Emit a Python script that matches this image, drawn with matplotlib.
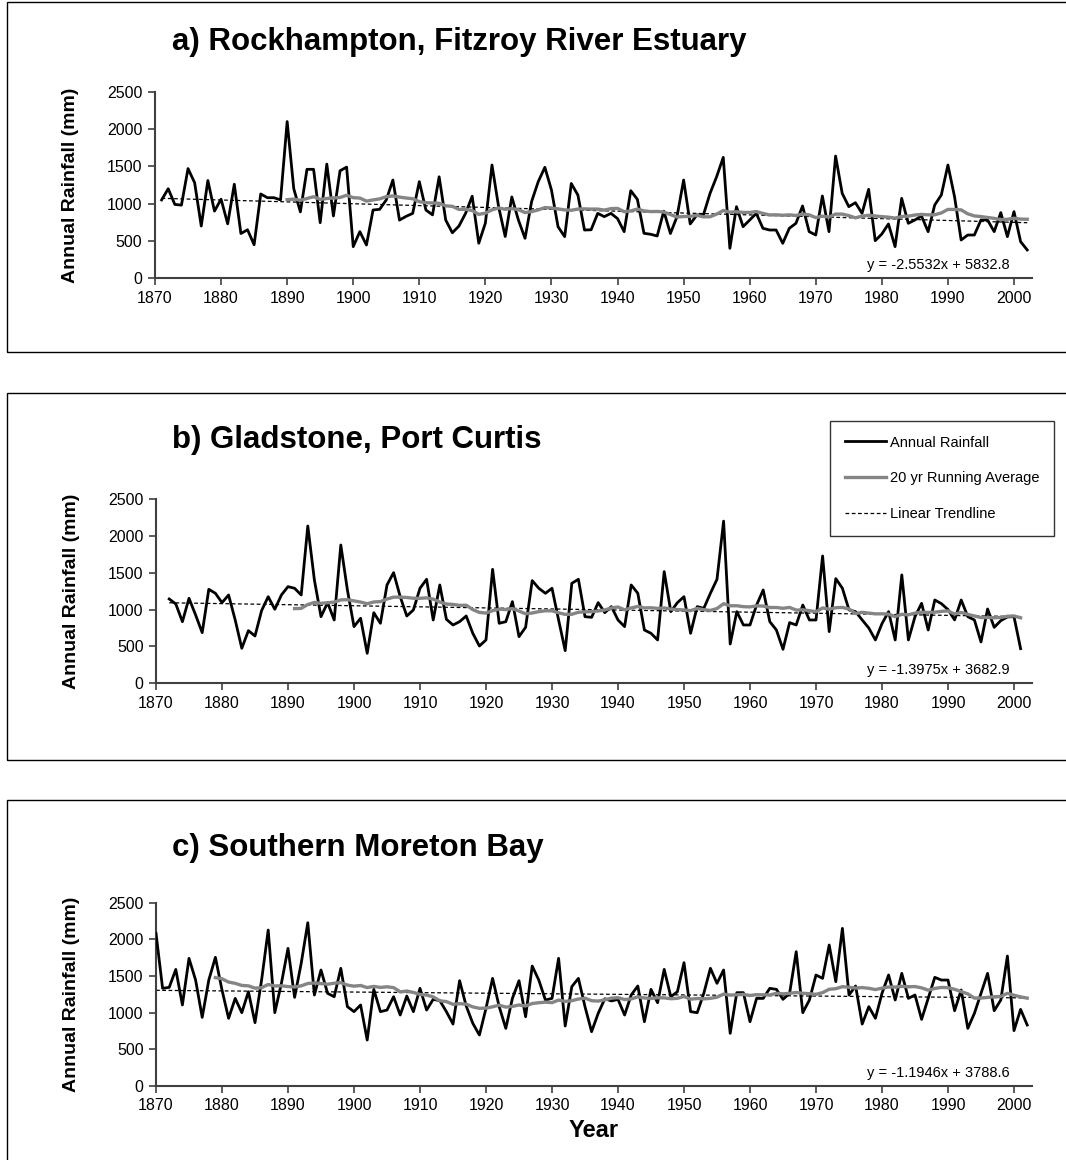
import matplotlib.pyplot as plt
import matplotlib.patches as mpatches
import numpy as np
import pandas as pd

plt.rcParams['font.family'] = ['Liberation Sans', 'DejaVu Sans']

# Annual rainfall (mm)
years_a = np.arange(1871, 2003)
rain_a = [1050, 1200, 990, 980, 1470, 1280, 700, 1310, 900, 1060,
          730, 1260, 600, 650, 450, 1130, 1080, 1080, 1050, 2100,
          1200, 890, 1460, 1460, 745, 1530, 835, 1440, 1490, 424,
          625, 446, 915, 924, 1050, 1317, 780, 830, 870, 1295,
          915, 850, 1360, 780, 610, 700, 870, 1100, 470, 740,
          1518, 960, 560, 1090, 780, 536, 1030, 1295, 1487, 1183,
          690, 558, 1270, 1115, 647, 650, 870, 826, 870, 800,
          625, 1174, 1058, 603, 590, 567, 900, 600, 826, 1317,
          728, 848, 850, 1138, 1362, 1620, 402, 960, 692, 781,
          870, 670, 647, 647, 469, 670, 737, 969, 625, 580,
          1103, 625, 1638, 1138, 960, 1013, 870, 1192, 504, 594,
          728, 424, 1071, 737, 781, 835, 625, 982, 1116, 1518,
          1094, 513, 580, 580, 781, 781, 625, 880, 558, 893,
          491, 380]

years_b = np.arange(1872, 2002)
rain_b = [1144, 1076, 836, 1153, 927, 687, 1275, 1221, 1094, 1198,
          859, 475, 714, 642, 986, 1175, 1004, 1198, 1311, 1289,
          1198, 2134, 1400, 904, 1094, 859, 1876, 1266, 769, 882,
          407, 958, 814, 1334, 1501, 1175, 913, 995, 1289, 1411,
          859, 1334, 868, 791, 836, 913, 678, 506, 588, 1546,
          814, 836, 1108, 633, 760, 1393, 1289, 1221, 1289, 859,
          443, 1356, 1411, 904, 895, 1094, 958, 1040, 859, 769,
          1334, 1221, 723, 678, 588, 1515, 972, 1094, 1175, 678,
          1040, 1017, 1221, 1411, 2200, 533, 972, 791, 791, 1062,
          1266, 836, 723, 461, 823, 791, 1062, 859, 859, 1727,
          701, 1420, 1289, 995, 972, 859, 750, 588, 810, 972,
          588, 1470, 588, 904, 1085, 723, 1130, 1080, 1000, 860,
          1130, 904, 859, 561, 1008, 759, 850, 900, 904, 470]

years_c = np.arange(1870, 2003)
rain_c = [2082, 1332, 1345, 1590, 1105, 1741, 1445, 936, 1445, 1755,
          1309, 923, 1195, 1000, 1286, 864, 1445, 2127, 1000, 1400,
          1877, 1209, 1673, 2227, 1241, 1582, 1264, 1218, 1605, 1082,
          1014, 1105, 627, 1318, 1014, 1036, 1218, 968, 1227, 1014,
          1332, 1036, 1182, 1164, 1014, 845, 1436, 1091, 855, 695,
          1059, 1468, 1082, 786, 1195, 1436, 945, 1636, 1445, 1173,
          1195, 1741, 818, 1355, 1468, 1082, 741, 991, 1190, 1160,
          1182, 968, 1241, 1364, 877, 1318, 1136, 1591, 1218, 1286,
          1682, 1014, 1000, 1264, 1605, 1400, 1582, 718, 1273, 1273,
          877, 1195, 1195, 1332, 1318, 1182, 1264, 1832, 1000, 1173,
          1514, 1468, 1923, 1423, 2150, 1241, 1364, 845, 1082, 923,
          1264, 1514, 1173, 1536, 1195, 1241, 909, 1195, 1482, 1445,
          1445, 1027, 1309, 786, 991, 1264, 1536, 1027, 1173, 1773,
          755, 1045, 832]

titles = ['a) Rockhampton, Fitzroy River Estuary',
          'b) Gladstone, Port Curtis',
          'c) Southern Moreton Bay']
equations = ['y = -2.5532x + 5832.8',
             'y = -1.3975x + 3682.9',
             'y = -1.1946x + 3788.6']
min_periods = [20, 20, 10]

W, H = 1066, 1160
fig = plt.figure(figsize=(W / 100, H / 100), dpi=100)


def px_rect(l, r, t, b):
    return [l / W, 1 - b / H, (r - l) / W, (b - t) / H]


# panel frames (Excel chart area borders)
for (t, b) in [(2, 352), (393, 760), (800, 1175)]:
    fig.add_artist(mpatches.Rectangle((7 / W, 1 - b / H), (1075 - 7) / W, (b - t) / H,
                                      transform=fig.transFigure, fill=False,
                                      edgecolor='black', linewidth=1.0))

# plot-area positions in pixels: left, right, top, bottom
boxes = [(155, 1032, 91.7, 278.3), (156, 1032, 499, 683.3), (156, 1032, 902.7, 1086)]
title_y = [42, 440, 848]

series = [(years_a, rain_a), (years_b, rain_b), (years_c, rain_c)]

for i, ((yrs, rain), box) in enumerate(zip(series, boxes)):
    ax = fig.add_axes(px_rect(*box))
    rain = np.array(rain, dtype=float)
    run = pd.Series(rain).rolling(20, min_periods=min_periods[i]).mean()
    k, c = np.polyfit(yrs, rain, 1)

    ax.plot(yrs, rain, color='black', lw=2.0, label='Annual Rainfall', zorder=3)
    ax.plot(yrs, run, color='#858585', lw=2.4, label='20 yr Running Average', zorder=4)
    ax.plot(yrs, k * yrs + c, color='black', lw=0.9, ls=(0, (3, 2)),
            label='Linear Trendline', zorder=2)

    ax.set_xlim(1870, 1870 + (box[1] - box[0]) / ((1014 - box[0]) / 130))
    ax.set_ylim(0, 2500)
    ax.set_xticks(np.arange(1870, 2001, 10))
    ax.set_yticks(np.arange(0, 2501, 500))
    ax.tick_params(labelsize=11.5, length=5, width=1.2, color='#404040', pad=4)
    for s in ['top', 'right']:
        ax.spines[s].set_visible(False)
    for s in ['left', 'bottom']:
        ax.spines[s].set_color('#404040')
        ax.spines[s].set_linewidth(1.5)
    ax.set_ylabel('Annual Rainfall (mm)', fontsize=14, fontweight='bold', labelpad=20)
    ax.text(1010 / W, 1 - (box[3] - 13) / H, equations[i], transform=fig.transFigure,
            ha='right', va='center', fontsize=10.5)
    fig.text(172 / W, 1 - title_y[i] / H, titles[i], fontsize=22.5, fontweight='bold',
             ha='left', va='center')

    if i == 1:
        leg = ax.legend(loc='upper right', bbox_to_anchor=(1054 / W, 1 - 421 / H),
                        bbox_transform=fig.transFigure, fontsize=10.5, frameon=True,
                        fancybox=False, edgecolor='black', handlelength=2.8,
                        handletextpad=0.3, borderpad=1.0, labelspacing=1.5,
                        borderaxespad=0)
        leg.get_frame().set_linewidth(1.0)
    if i == 2:
        ax.set_xlabel('Year', fontsize=17, fontweight='bold', labelpad=4)

fig.savefig('out.png', dpi=100)
